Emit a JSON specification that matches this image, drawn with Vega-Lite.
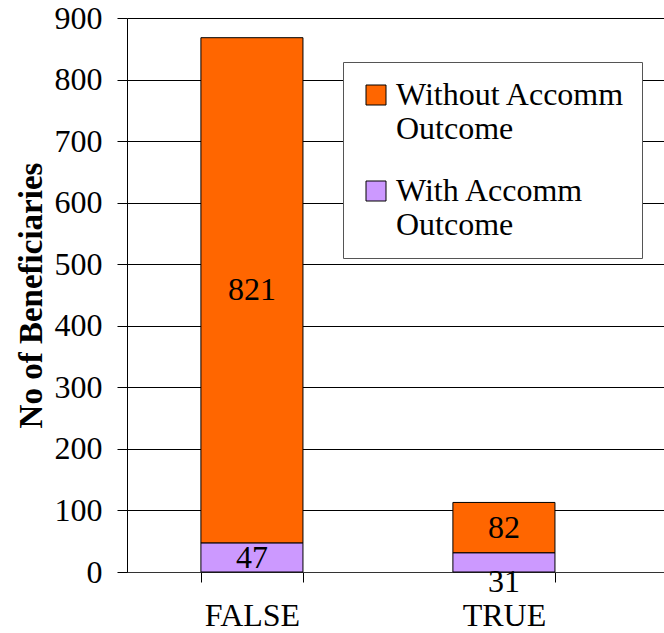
{
  "$schema": "https://vega.github.io/schema/vega-lite/v6.json",
  "width": 537,
  "height": 554,
  "autosize": {"type": "none"},
  "padding": {"left": 127, "top": 18, "right": 0, "bottom": 61},
  "background": "white",
  "config": {"view": {"stroke": null}, "font": "Liberation Serif"},
  "data": {
    "values": [
      {"category": "FALSE", "outcome": "Without Accomm Outcome", "value": 821},
      {"category": "FALSE", "outcome": "With Accomm Outcome", "value": 47},
      {"category": "TRUE", "outcome": "Without Accomm Outcome", "value": 82},
      {"category": "TRUE", "outcome": "With Accomm Outcome", "value": 31}
    ]
  },
  "transform": [
    {"stack": "value", "groupby": ["category"], "sort": [{"field": "outcome", "order": "ascending"}], "as": ["v0", "v1"]},
    {"calculate": "(datum.v0 + datum.v1) / 2", "as": "mid"}
  ],
  "encoding": {
    "x": {
      "field": "category",
      "type": "nominal",
      "scale": {"paddingInner": 0.595, "paddingOuter": 0.363, "align": 0.404},
      "axis": {
        "title": null,
        "labelAngle": 0,
        "labelFont": "Liberation Serif",
        "labelFontSize": 32,
        "labelColor": "black",
        "labelPadding": 18,
        "labelDx": 5,
        "tickBand": "extent",
        "tickSize": 10,
        "tickColor": "black",
        "domainColor": "#333",
        "grid": false
      }
    }
  },
  "layer": [
    {
      "mark": {"type": "bar", "stroke": "black", "strokeWidth": 1},
      "encoding": {
        "y": {
          "field": "v0",
          "type": "quantitative",
          "scale": {"domain": [0, 900]},
          "axis": {
            "values": [0, 100, 200, 300, 400, 500, 600, 700, 800, 900],
            "title": "No of Beneficiaries",
            "titleFont": "Liberation Serif",
            "titleFontSize": 33,
            "titleFontWeight": "bold",
            "titleColor": "black",
            "titlePadding": 6,
            "labelFont": "Liberation Serif",
            "labelFontSize": 32,
            "labelColor": "black",
            "labelPadding": 15,
            "tickSize": 10,
            "tickColor": "black",
            "domainColor": "black",
            "grid": true,
            "gridColor": "black",
            "gridOpacity": 1
          }
        },
        "y2": {"field": "v1"},
        "color": {
          "field": "outcome",
          "type": "nominal",
          "scale": {"domain": ["Without Accomm Outcome", "With Accomm Outcome"], "range": ["#FF6600", "#CC99FF"]},
          "legend": {
            "orient": "none",
            "legendX": 216,
            "legendY": 44,
            "title": null,
            "symbolType": "square",
            "symbolSize": 400,
            "symbolStrokeColor": "black",
            "symbolStrokeWidth": 1,
            "labelFont": "Liberation Serif",
            "labelFontSize": 32,
            "labelColor": "black",
            "labelLimit": 400,
            "labelOffset": 4,
            "labelLineHeight": 34,
            "labelExpr": "[slice(datum.label, 0, -8), 'Outcome']",
            "rowPadding": 30,
            "padding": 17,
            "fillColor": "white",
            "strokeColor": "#555"
          }
        }
      }
    },
    {
      "transform": [{"filter": "datum.value >= 40"}],
      "mark": {"type": "text", "font": "Liberation Serif", "fontSize": 32, "color": "black", "baseline": "middle"},
      "encoding": {
        "y": {"field": "mid", "type": "quantitative"},
        "text": {"field": "value", "type": "quantitative"}
      }
    },
    {
      "transform": [{"filter": "datum.value < 40"}],
      "mark": {"type": "text", "font": "Liberation Serif", "fontSize": 32, "color": "black", "baseline": "middle", "dy": 20},
      "encoding": {
        "y": {"field": "mid", "type": "quantitative"},
        "text": {"field": "value", "type": "quantitative"}
      }
    }
  ]
}
